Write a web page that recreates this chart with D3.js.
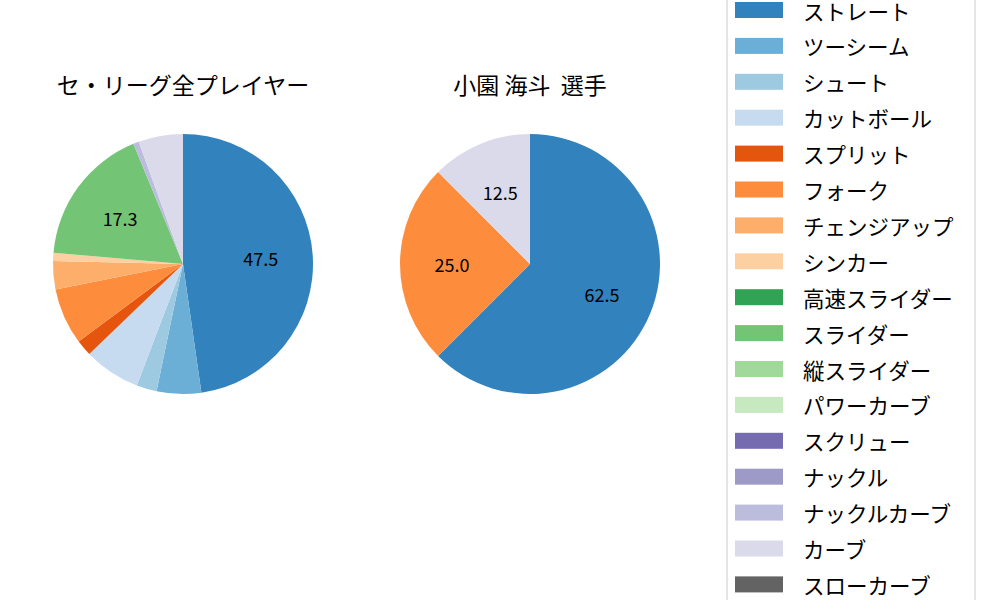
<!DOCTYPE html><html><head><meta charset="utf-8"><script src="https://cdn.jsdelivr.net/npm/d3@7"></script>
<style>body{margin:0;background:#fff}text{font-family:"Noto Sans CJK JP","DejaVu Sans",sans-serif;white-space:pre}</style></head><body>
<svg id="c" width="1000" height="600"></svg>
<script>
const categories=["ストレート","ツーシーム","シュート","カットボール","スプリット","フォーク","チェンジアップ","シンカー","高速スライダー","スライダー","縦スライダー","パワーカーブ","スクリュー","ナックル","ナックルカーブ","カーブ","スローカーブ"];
const colors=["#3182bd","#6baed6","#9ecae1","#c6dbef","#e6550d","#fd8d3c","#fdae6b","#fdd0a2","#31a354","#74c476","#a1d99b","#c7e9c0","#756bb1","#9e9ac8","#bcbddc","#dadaeb","#636363"];
const leagueValues=[47.5,5.5,2.5,7.0,2.0,7.0,3.5,1.0,0,17.3,0,0,0,0,0.7,5.5,0];
const playerValues=[62.5,0,0,0,0,25.0,0,0,0,0,0,0,0,0,0,12.5,0];
const titles=["セ・リーグ全プレイヤー","小園 海斗  選手"];
const svg=d3.select("#c");
function pie(vals,cx,title){
  const g=svg.append("g").attr("transform",`translate(${cx},264)`);
  const r=130;
  const arcs=d3.pie().sort(null)(vals);
  const arc=d3.arc().innerRadius(0).outerRadius(r);
  g.selectAll("path").data(arcs).join("path").attr("d",arc).attr("fill",(d,i)=>colors[i]);
  const la=d3.arc().innerRadius(r*0.6).outerRadius(r*0.6);
  g.selectAll("text.l").data(arcs.filter(d=>d.data>=10)).join("text").attr("class","l")
   .attr("transform",d=>`translate(${la.centroid(d)})`).attr("text-anchor","middle").attr("dominant-baseline","central")
   .attr("font-size",18).text(d=>d.data.toFixed(1));
  svg.append("text").attr("x",cx).attr("y",84).attr("text-anchor","middle").attr("dominant-baseline","central").attr("font-size",23).text(title);
}
pie(leagueValues,183,titles[0]);
pie(playerValues,530,titles[1]);
const lg=svg.append("g");
lg.append("rect").attr("x",727).attr("y",-10).attr("width",248).attr("height",620).attr("fill","#fff").attr("stroke","#ccc");
categories.forEach((c,i)=>{
  const y=9+i*35.9;
  lg.append("rect").attr("x",735).attr("y",y-7).attr("width",48).attr("height",16).attr("fill",colors[i]);
  lg.append("text").attr("x",803).attr("y",y+1).attr("dominant-baseline","central").attr("font-size",21.5).text(c);
});
</script></body></html>
